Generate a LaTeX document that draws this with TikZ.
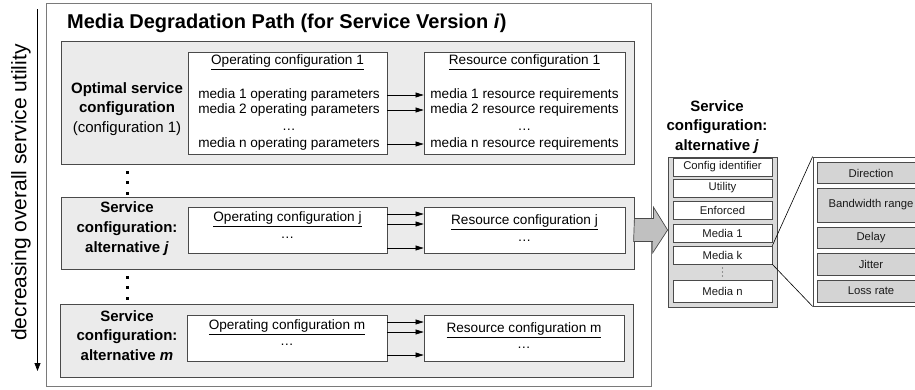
\documentclass[tikz,border=0pt]{standalone}
\usepackage{fontspec}
\setmainfont{Liberation Sans}
\usepackage{tikz}
\usetikzlibrary{arrows.meta,shadows}
\definecolor{edge}{HTML}{4A4A4A}
\definecolor{frame}{HTML}{7A7A7A}
\definecolor{panelbg}{HTML}{EBEBEB}
\definecolor{listbg}{HTML}{DADADA}
\definecolor{fieldbg}{HTML}{D4D4D4}
\definecolor{bigarr}{HTML}{C0C0C0}
\definecolor{shade}{HTML}{A0A0A0}
\definecolor{ink}{HTML}{1A1A1A}
\tikzset{
  outer/.style={draw=frame, line width=1pt, fill=white, drop shadow={shadow xshift=1.2pt, shadow yshift=-1.2pt, fill=shade, opacity=1}},
  panel/.style={draw=edge, line width=0.8pt, fill=panelbg, minimum width=573pt, drop shadow={shadow xshift=1pt, shadow yshift=-1pt, fill=shade, opacity=1}},
  cbox/.style={draw=edge, line width=0.8pt, fill=white, inner sep=0pt},
  list/.style={draw=edge, line width=0.8pt, fill=listbg, drop shadow={shadow xshift=1pt, shadow yshift=-1pt, fill=shade, opacity=1}},
  field/.style={draw=edge, line width=0.7pt, fill=white, minimum width=99pt, inner sep=0pt, text=ink, font=\fontsize{11.3}{13}\selectfont},
  dbox/.style={draw=edge, line width=0.8pt, fill=white},
  ditem/.style={draw=edge, line width=0.7pt, fill=fieldbg, minimum width=108pt, inner sep=0pt, text=ink, font=\fontsize{11.3}{13}\selectfont},
  ttl/.style={font=\fontsize{20}{24}\selectfont\bfseries, inner sep=0pt},
  lbl/.style={align=center, inner sep=0pt, font=\fontsize{15}{19.8}\selectfont},
  txt/.style={inner sep=0pt, font=\fontsize{13.6}{15}\selectfont},
  arr/.style={draw=black, line width=0.7pt, -{Triangle[length=8pt,width=5pt]}},
  axis/.style={draw=black, line width=0.8pt, -{Triangle[length=8pt,width=6pt]}},
  axlbl/.style={inner sep=0pt, font=\fontsize{21}{24}\selectfont},
  bigarrow/.style={draw=edge, line width=0.7pt, fill=bigarr, line join=miter},
  zoomline/.style={draw=black, line width=0.6pt},
}

\begin{document}
\begin{tikzpicture}[x=1pt,y=-1pt]
\useasboundingbox (0,0) rectangle (915,389);
\clip (0,0) rectangle (915,389);

% utility axis
\coordinate (axtop) at (37.5,9);
\coordinate (axbot) at (37.5,371);
\draw[axis] (axtop) -- (axbot);
\node[axlbl, rotate=90] (axl) at (21,192.5) {decreasing overall service utility};

% degradation path frame
\node[outer, minimum width=605pt, minimum height=383pt] (dp) at (348.5,194.5) {};
\node[ttl, anchor=base west] (title) at (67,28.5) {Media Degradation Path (for Service Version \textit{i})};

% optimal configuration
\node[panel, minimum height=123pt] (p1) at (347.5,102.5) {};
\node[cbox, minimum width=199pt, minimum height=102pt] (op1) at (287.5,103) {};
\node[cbox, minimum width=201pt, minimum height=102pt] (rs1) at (524.5,103) {};
\node[lbl] (l1) at (127,109) {\textbf{Optimal service}\\\textbf{configuration}\\(configuration 1)};
\node[txt] (oh1) at (287.5,62) {\underline{Operating configuration 1}};
\node[txt] (rh1) at (524.5,62) {\underline{Resource configuration 1}};
\foreach \k/\y/\t in {a/95/1,b/110/2,n/144/n}{
  \node[txt] (om\k) at (289,\y) {media \t\ operating parameters};
  \node[txt] (rm\k) at (524.5,\y) {media \t\ resource requirements};
  \draw[arr] (op1.east |- om\k) -- (rs1.west |- rm\k);
}
\node[txt] (od1) at (289,130) {\ldots};
\node[txt] (rd1) at (524.5,130) {\ldots};

% alternative j
\node[panel, minimum height=72pt] (pj) at (347.5,233) {};
\node[cbox, minimum width=199pt, minimum height=46pt] (opj) at (287.5,230) {};
\node[cbox, minimum width=201pt, minimum height=46pt] (rsj) at (524.5,230) {};
\node[lbl] (lj) at (127,228.5) {\textbf{Service}\\\textbf{configuration:}\\\textbf{alternative \textit{j}}};
\node[txt] (ohj) at (287.5,219) {\underline{Operating configuration j}};
\node[txt] (odj) at (287.5,238) {\ldots};
\node[txt] (rhj) at (524.5,222) {\underline{Resource configuration j}};
\node[txt] (rdj) at (524.5,241) {\ldots};
\foreach \s in {16,6,-18}{
  \draw[arr] ([yshift=\s pt]opj.east) -- ([yshift=\s pt]rsj.west);
}

% alternative m
\node[panel, minimum height=73pt] (pm) at (346.5,340.5) {};
\node[cbox, minimum width=200pt, minimum height=46pt] (opm) at (287,338) {};
\node[cbox, minimum width=200pt, minimum height=46pt] (rsm) at (524,338) {};
\node[lbl] (lm) at (127,335.5) {\textbf{Service}\\\textbf{configuration:}\\\textbf{alternative \textit{m}}};
\node[txt] (ohm) at (287,327) {\underline{Operating configuration m}};
\node[txt] (odm) at (287,345) {\ldots};
\node[txt] (rhm) at (524,330) {\underline{Resource configuration m}};
\node[txt] (rdm) at (524,348) {\ldots};
\foreach \s in {16,6,-17}{
  \draw[arr] ([yshift=\s pt]opm.east) -- ([yshift=\s pt]rsm.west);
}

% vertical dots
\foreach \y in {172,182.5,193,277,287.5,298}{
  \fill[black] (125.5,\y-1.5) rectangle ++(3,3);
}

% service configuration j record
\node[lbl] (ct) at (717,127) {\textbf{Service}\\\textbf{configuration:}\\\textbf{alternative \textit{j}}};
\node[list, minimum width=109pt, minimum height=150pt] (cont) at (722.5,232) {};
\foreach \n/\y/\h/\t in {ci/167/18/Config identifier,ut/188/18/Utility,en/210/18/Enforced,m1/233/18/Media 1,mk/255/18/Media k,mn/291/22/Media n}{
  \node[field, minimum height=\h pt] (\n) at (722.5,\y) {\t};
}
\foreach \d in {-4,0,4}{
  \fill[edge] (722.5,272+\d) circle (0.6);
}

% big arrow
\path (pj.east) ++(0,-3) coordinate (ba);
\draw[bigarrow] (ba) ++(0,-11.5) -- ++(19,0) -- ++(0,-11.5) -- (cont.west |- ba)
  -- ++(-15,23) -- ++(0,-11.5) -- ++(-19,0) -- cycle;

% media k detail
\node[dbox, minimum width=116pt, minimum height=149pt] (det) at (871,231.5) {};
\foreach \n/\y/\h/\t in {dr/173/21/Direction,bw/205/34/Bandwidth range,dl/237.5/21/Delay,jt/264/22/Jitter,lr/291/22/Loss rate}{
  \node[ditem, minimum height=\h pt] (\n) at (871,\y) {\t};
}
\draw[zoomline] (mk.north east) -- (det.north west);
\draw[zoomline] (mk.south east) -- (det.south west);
\end{tikzpicture}
\end{document}
